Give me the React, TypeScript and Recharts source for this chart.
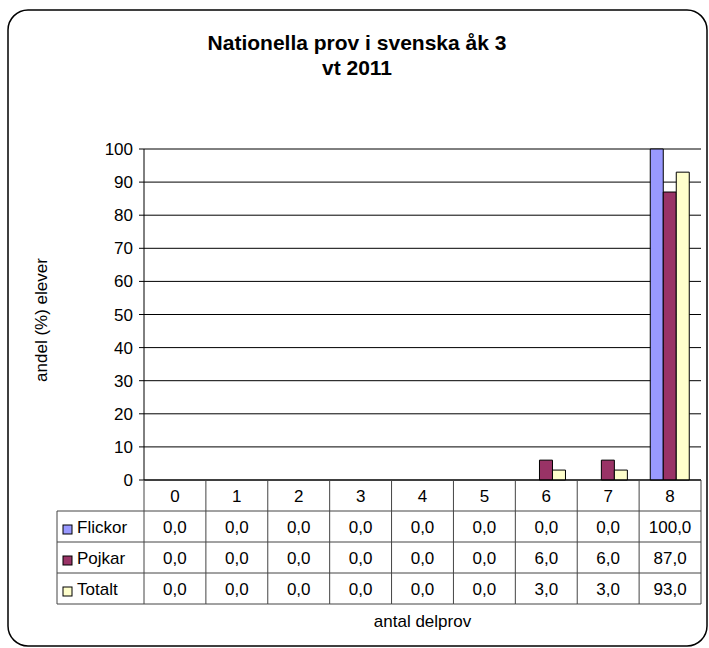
import React from 'react';
import { BarChart, Bar, XAxis, YAxis, CartesianGrid } from 'recharts';

const categories = ['0', '1', '2', '3', '4', '5', '6', '7', '8'];
const flickor = [0, 0, 0, 0, 0, 0, 0, 0, 100];
const pojkar = [0, 0, 0, 0, 0, 0, 6, 6, 87];
const totalt = [0, 0, 0, 0, 0, 0, 3, 3, 93];
const yTicks = [0, 10, 20, 30, 40, 50, 60, 70, 80, 90, 100];

const seriesDefs = [
  { key: 'Flickor', values: flickor, color: '#9999FF' },
  { key: 'Pojkar', values: pojkar, color: '#993366' },
  { key: 'Totalt', values: totalt, color: '#FFFFCC' },
];

const data = categories.map((c, i) => ({
  cat: c,
  Flickor: flickor[i],
  Pojkar: pojkar[i],
  Totalt: totalt[i],
}));

const FONT = '"Liberation Sans", Arial, sans-serif';
const FS = 17;
const W = 709;
const H = 648;
const M = { top: 149, right: 8, left: 94, bottom: 43 };
const Y_AXIS_W = 50;
const PLOT_LEFT = M.left + Y_AXIS_W;
const PLOT_RIGHT = W - M.right;
const CELL_W = (PLOT_RIGHT - PLOT_LEFT) / categories.length;
const ROW_H = 31;
const LEGEND_LEFT = 57;
const LINE = '#444';

const fmt = (v: number) => v.toFixed(1).replace('.', ',');

const TableTick = (props: any) => {
  const { x, y, payload } = props;
  const i = payload.index;
  const left = x - CELL_W / 2;
  const right = x + CELL_W / 2;
  const bottom = y + ROW_H * 4;
  return (
    <g>
      <line x1={left} y1={y} x2={left} y2={bottom} stroke={LINE} strokeWidth={1} />
      {i === categories.length - 1 && (
        <line x1={right} y1={y} x2={right} y2={bottom} stroke={LINE} strokeWidth={1} />
      )}
      {[1, 2, 3, 4].map((r) => (
        <line key={r} x1={left} y1={y + ROW_H * r} x2={right} y2={y + ROW_H * r} stroke={LINE} strokeWidth={1} />
      ))}
      <text x={x} y={y + ROW_H / 2 + 6} textAnchor="middle" fontFamily={FONT} fontSize={FS} fill="#000">
        {payload.value}
      </text>
      {seriesDefs.map((s, r) => (
        <text key={s.key} x={x} y={y + ROW_H * (r + 1) + ROW_H / 2 + 6} textAnchor="middle" fontFamily={FONT} fontSize={FS} fill="#000">
          {fmt(s.values[i])}
        </text>
      ))}
    </g>
  );
};

export default function App() {
  const tableTop = H - M.bottom - 125;
  return (
    <div style={{ position: 'absolute', left: 0, top: 0, width: W, height: H, background: '#fff' }}>
      <svg width={W} height={H} style={{ position: 'absolute', left: 0, top: 0 }}>
        <rect x={8} y={10} width={699} height={636} rx={20} ry={20} fill="#fff" stroke="#000" strokeWidth={1.5} />
      </svg>
      <div style={{ position: 'absolute', left: 0, top: 0 }}>
        <BarChart width={W} height={H} data={data} margin={M} barCategoryGap="18%" barGap={0}>
          <CartesianGrid vertical={false} stroke="#000" strokeWidth={1} />
          <XAxis
            dataKey="cat"
            height={125}
            tickLine={false}
            tickSize={0}
            tickMargin={0}
            axisLine={{ stroke: '#000' }}
            tick={<TableTick />}
            interval={0}
          />
          <YAxis
            width={Y_AXIS_W}
            domain={[0, 100]}
            ticks={yTicks}
            interval={0}
            tickSize={5}
            tickMargin={6}
            axisLine={{ stroke: '#000' }}
            tickLine={{ stroke: '#000' }}
            tick={{ fontFamily: FONT, fontSize: FS, fill: '#000' }}
          />
          {seriesDefs.map((s) => (
            <Bar key={s.key} dataKey={s.key} fill={s.color} stroke="#000" strokeWidth={1} isAnimationActive={false} />
          ))}
        </BarChart>
      </div>
      <svg width={W} height={H} style={{ position: 'absolute', left: 0, top: 0, pointerEvents: 'none' }}>
        <text x={357} y={50} textAnchor="middle" fontFamily={FONT} fontSize={21} fontWeight="bold" fill="#000">
          Nationella prov i svenska åk 3
        </text>
        <text x={357} y={75} textAnchor="middle" fontFamily={FONT} fontSize={21} fontWeight="bold" fill="#000">
          vt 2011
        </text>
        <text x={47} y={320} textAnchor="middle" fontFamily={FONT} fontSize={FS} fill="#000" transform="rotate(-90 47 320)">
          andel (%) elever
        </text>
        <text x={(PLOT_LEFT + PLOT_RIGHT) / 2} y={627} textAnchor="middle" fontFamily={FONT} fontSize={FS} fill="#000">
          antal delprov
        </text>
        <line x1={LEGEND_LEFT} y1={tableTop + ROW_H} x2={LEGEND_LEFT} y2={tableTop + ROW_H * 4} stroke={LINE} />
        {[1, 2, 3, 4].map((r) => (
          <line key={r} x1={LEGEND_LEFT} y1={tableTop + ROW_H * r} x2={PLOT_LEFT} y2={tableTop + ROW_H * r} stroke={LINE} />
        ))}
        {seriesDefs.map((s, r) => (
          <g key={s.key}>
            <rect x={63} y={tableTop + ROW_H * (r + 1) + 14} width={9} height={9} fill={s.color} stroke="#000" />
            <text x={77} y={tableTop + ROW_H * (r + 1) + ROW_H / 2 + 6} fontFamily={FONT} fontSize={FS} fill="#000">
              {s.key}
            </text>
          </g>
        ))}
      </svg>
    </div>
  );
}
